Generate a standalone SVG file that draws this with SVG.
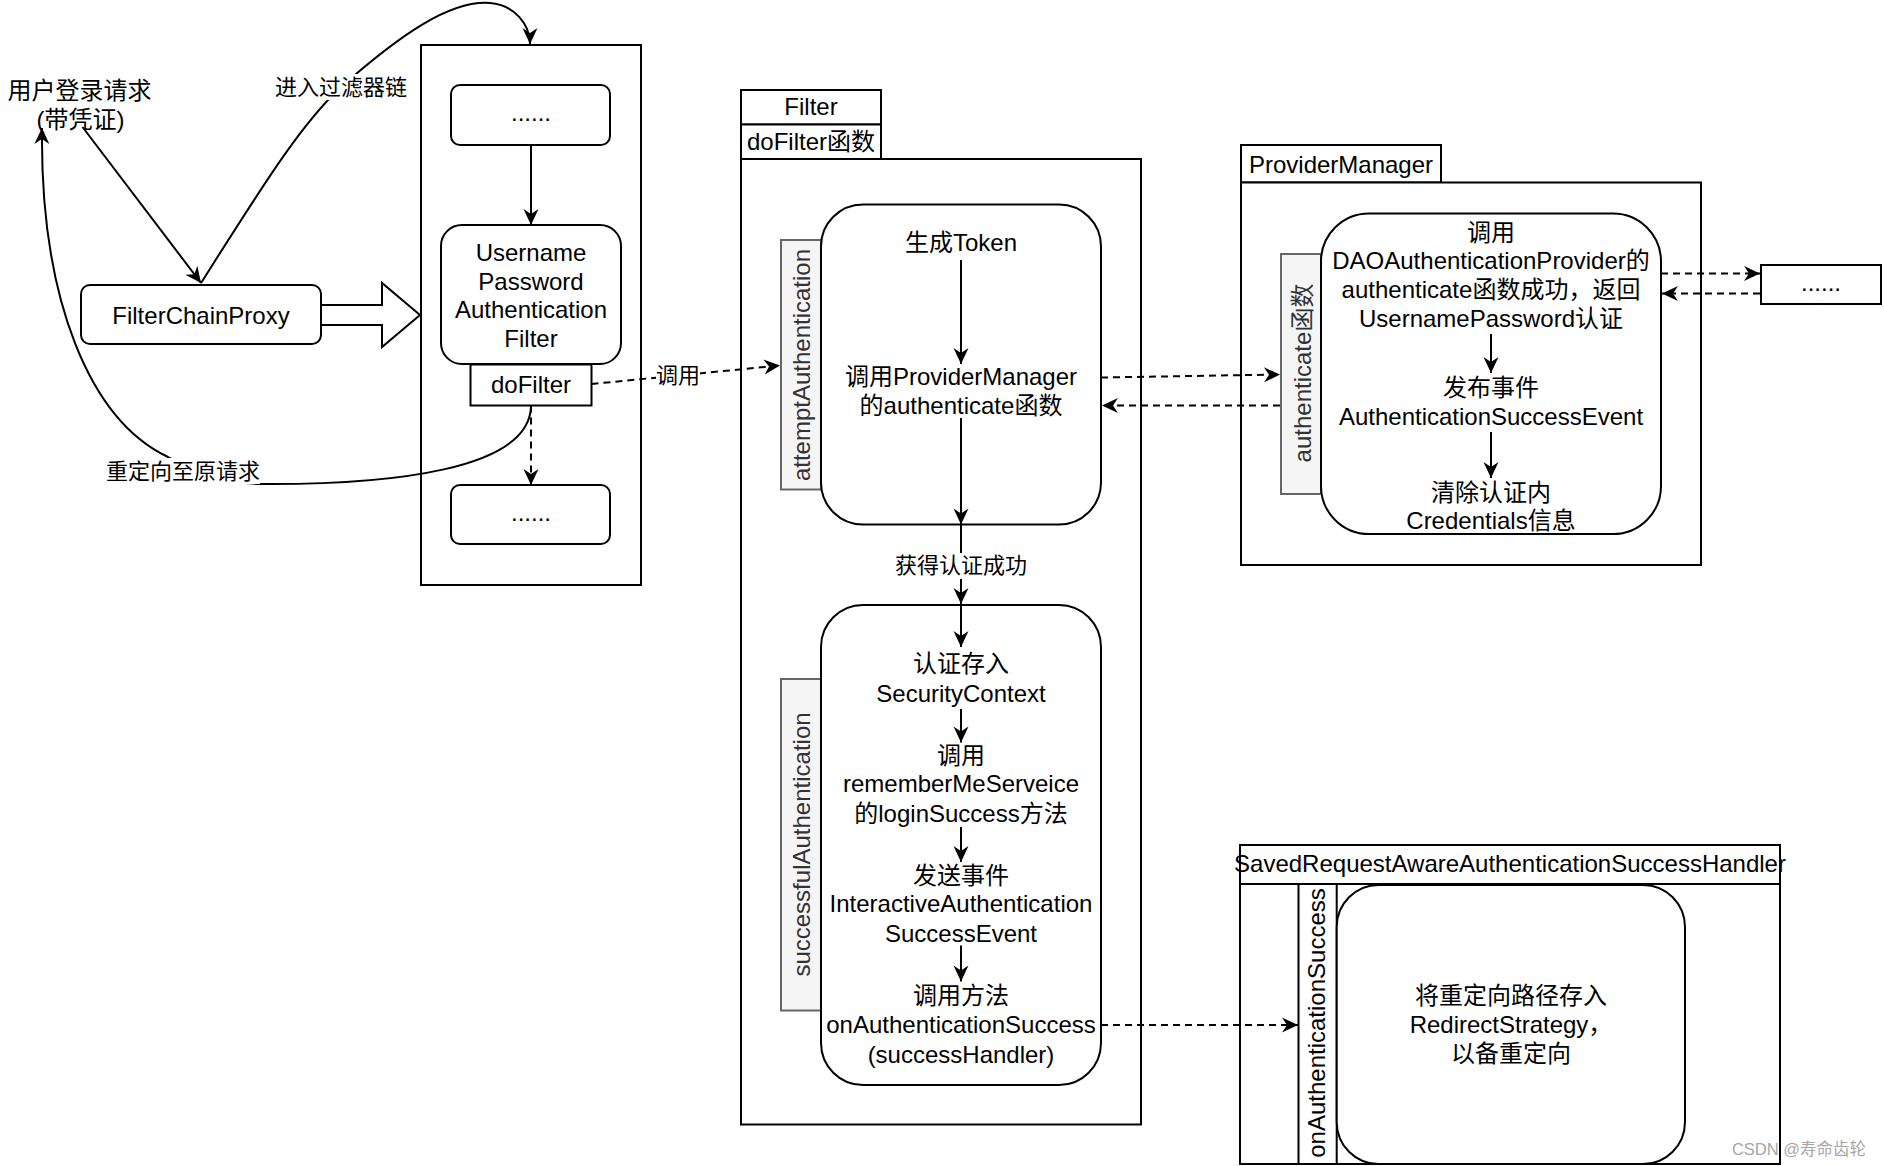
<svg xmlns="http://www.w3.org/2000/svg" width="1884" height="1166" viewBox="0 0 1884 1166">
<defs>
<style>
.t{font-family:"Liberation Sans","Noto Sans CJK SC",sans-serif;font-size:24px;fill:#000;text-anchor:middle;dominant-baseline:central}
.lbl{font-size:22px}
.g{fill:#333}
.box{fill:#fff;stroke:#000;stroke-width:2}
.gbox{fill:#f5f5f5;stroke:#666;stroke-width:2}
.ln{fill:none;stroke:#000;stroke-width:2}
.ds{stroke-dasharray:7 5}
.bg{fill:#fff;stroke:none}
.dots{font-family:"Liberation Sans",sans-serif;font-size:24px;fill:#000;text-anchor:middle}
.wm{font-family:"Liberation Sans","Noto Sans CJK SC",sans-serif;font-size:16.5px;fill:#a6a6a6;text-anchor:middle;dominant-baseline:central}
</style>
<marker id="arr" markerUnits="userSpaceOnUse" markerWidth="17" markerHeight="16" refX="16" refY="7.5" orient="auto" overflow="visible">
<path d="M0,0 L16,7.5 L0,15 L5,7.5 Z" fill="#000" stroke="none"/>
</marker>
</defs>
<rect width="1884" height="1166" fill="#fff"/>

<!-- Left section -->
<g id="user-request">
<text class="t" x="79.5" y="90">用户登录请求</text>
<text class="t" x="80.5" y="119">(带凭证)</text>
</g>
<g id="filter-chain-container">
<rect class="box" x="421" y="45" width="220" height="540"/>
</g>
<g id="filter-chain-proxy">
<rect class="box" x="81" y="285" width="240" height="59" rx="9"/>
<text class="t" x="201" y="315">FilterChainProxy</text>
</g>
<g id="filter-top">
<rect class="box" x="451" y="85" width="159" height="60" rx="9"/>
<text class="dots" x="531" y="121">......</text>
</g>
<g id="upaf">
<rect class="box" x="441" y="225" width="180" height="139" rx="21"/>
<text class="t" x="531" y="252.5">Username</text>
<text class="t" x="531" y="281">Password</text>
<text class="t" x="531" y="309.5">Authentication</text>
<text class="t" x="531" y="338">Filter</text>
</g>
<g id="dofilter">
<rect class="box" x="470.5" y="364.5" width="121" height="41"/>
<text class="t" x="531" y="384.5">doFilter</text>
</g>
<g id="filter-bottom">
<rect class="box" x="451" y="485" width="159" height="59" rx="9"/>
<text class="dots" x="531" y="521">......</text>
</g>

<!-- Middle section -->
<g id="filter-class">
<rect class="box" x="741" y="90" width="140" height="34.5"/>
<text class="t" x="811" y="106">Filter</text>
<rect class="box" x="741" y="124.5" width="140" height="34.5"/>
<text class="t" x="811" y="141.5">doFilter函数</text>
<rect class="box" x="741" y="159" width="400" height="965.5"/>
</g>
<g id="attempt-label">
<rect class="gbox" x="781" y="240" width="40" height="249.5"/>
<text class="t g" transform="translate(801,365) rotate(-90)">attemptAuthentication</text>
</g>
<g id="attempt-box">
<rect class="box" x="821" y="204.5" width="280" height="320" rx="42"/>
<text class="t" x="961" y="242.5">生成Token</text>
<text class="t" x="961" y="376.5">调用ProviderManager</text>
<text class="t" x="961" y="405.5">的authenticate函数</text>
</g>
<g id="success-label">
<rect class="gbox" x="781" y="679" width="40" height="331.5"/>
<text class="t g" transform="translate(801,844.5) rotate(-90)">successfulAuthentication</text>
</g>
<g id="success-box">
<rect class="box" x="821" y="605" width="280" height="480" rx="42"/>
<text class="t" x="961" y="663.5">认证存入</text>
<text class="t" x="961" y="693.5">SecurityContext</text>
<text class="t" x="961" y="755">调用</text>
<text class="t" x="961" y="783.5">rememberMeServeice</text>
<text class="t" x="961" y="813.5">的loginSuccess方法</text>
<text class="t" x="961" y="875.5">发送事件</text>
<text class="t" x="961" y="903.5">InteractiveAuthentication</text>
<text class="t" x="961" y="933.5">SuccessEvent</text>
<text class="t" x="961" y="995.5">调用方法</text>
<text class="t" x="961" y="1024">onAuthenticationSuccess</text>
<text class="t" x="961" y="1054">(successHandler)</text>
</g>

<!-- ProviderManager -->
<g id="provider-manager">
<rect class="box" x="1241" y="145" width="200" height="37.5"/>
<text class="t" x="1341" y="164">ProviderManager</text>
<rect class="box" x="1241" y="182.5" width="460" height="382.5"/>
</g>
<g id="authenticate-label">
<rect class="gbox" x="1281" y="254" width="40" height="240"/>
<text class="t g" transform="translate(1302,373) rotate(-90)">authenticate函数</text>
</g>
<g id="provider-box">
<rect class="box" x="1321" y="213.5" width="340" height="320.5" rx="48"/>
<text class="t" x="1491" y="232">调用</text>
<text class="t" x="1491" y="260.5">DAOAuthenticationProvider的</text>
<text class="t" x="1491" y="289.5">authenticate函数成功，返回</text>
<text class="t" x="1491" y="318">UsernamePassword认证</text>
<text class="t" x="1491" y="387.5">发布事件</text>
<text class="t" x="1491" y="416.5">AuthenticationSuccessEvent</text>
<text class="t" x="1491" y="492">清除认证内</text>
<text class="t" x="1491" y="520">Credentials信息</text>
</g>
<g id="other-provider">
<rect class="box" x="1761" y="265" width="120" height="39"/>
<text class="dots" x="1821" y="291">......</text>
</g>

<!-- Handler -->
<g id="handler">
<rect class="box" x="1240" y="845" width="540" height="39"/>
<text class="t" x="1510" y="863.5">SavedRequestAwareAuthenticationSuccessHandler</text>
<rect class="box" x="1240" y="884" width="540" height="280"/>
</g>
<g id="onauth-label">
<rect class="box" x="1298.5" y="884" width="38.2" height="280"/>
<text class="t" transform="translate(1316,1023) rotate(-90)">onAuthenticationSuccess</text>
</g>
<g id="handler-box">
<rect class="box" x="1336.7" y="885" width="348.3" height="279" rx="42"/>
<text class="t" x="1511" y="995">将重定向路径存入</text>
<text class="t" x="1511" y="1024">RedirectStrategy，</text>
<text class="t" x="1511" y="1053">以备重定向</text>
</g>

<!-- Connectors -->
<g id="connectors">
<polygon points="321,305 382,305 382,283 420,315 382,347 382,325 321,325" fill="#fff" stroke="#000" stroke-width="2" stroke-linejoin="miter"/>
<path class="ln" d="M82.5 127 L201 283" marker-end="url(#arr)"/>
<path class="ln" d="M201 283 C260 190 300 125 341 87 C400 35 450 0 490 3 C515 5 530 25 530 44" marker-end="url(#arr)"/>
<rect class="bg" x="275" y="74" width="132" height="26"/>
<text class="t lbl" x="341" y="87">进入过滤器链</text>
<path class="ln" d="M531 145 L531 225" marker-end="url(#arr)"/>
<path class="ln ds" d="M531 405.5 L531 485" marker-end="url(#arr)"/>
<path class="ln" d="M531 406 C530 470 390 485 259 484 C230 483 195 472 168 457 C90 420 40 300 42 128" marker-end="url(#arr)"/>
<rect class="bg" x="106" y="458" width="154" height="26"/>
<text class="t lbl" x="183" y="471">重定向至原请求</text>
<path class="ln ds" d="M591.5 384 L780 365.5" marker-end="url(#arr)"/>
<rect class="bg" x="656" y="362" width="44" height="26"/>
<text class="t lbl" x="678" y="375">调用</text>
<path class="ln" d="M961 260 L961 364" marker-end="url(#arr)"/>
<path class="ln" d="M961 418 L961 524.5" marker-end="url(#arr)"/>
<path class="ln" d="M961 524.5 L961 604" marker-end="url(#arr)"/>
<rect class="bg" x="895" y="553" width="132" height="26"/>
<text class="t lbl" x="961" y="565.5">获得认证成功</text>
<path class="ln" d="M961 605 L961 647" marker-end="url(#arr)"/>
<path class="ln" d="M961 709 L961 742.5" marker-end="url(#arr)"/>
<path class="ln" d="M961 827 L961 862" marker-end="url(#arr)"/>
<path class="ln" d="M961 945.5 L961 981.5" marker-end="url(#arr)"/>
<path class="ln ds" d="M1101 1025 L1298 1025" marker-end="url(#arr)"/>
<path class="ln ds" d="M1101 377.5 L1280 374.5" marker-end="url(#arr)"/>
<path class="ln ds" d="M1280 405.5 L1102 405.5" marker-end="url(#arr)"/>
<path class="ln ds" d="M1661 273.5 L1760 273.5" marker-end="url(#arr)"/>
<path class="ln ds" d="M1760 293.5 L1662 293.5" marker-end="url(#arr)"/>
<path class="ln" d="M1491 334 L1491 373" marker-end="url(#arr)"/>
<path class="ln" d="M1491 432 L1491 478" marker-end="url(#arr)"/>
</g>

<text class="wm" x="1799" y="1149">CSDN @寿命齿轮</text>
</svg>
